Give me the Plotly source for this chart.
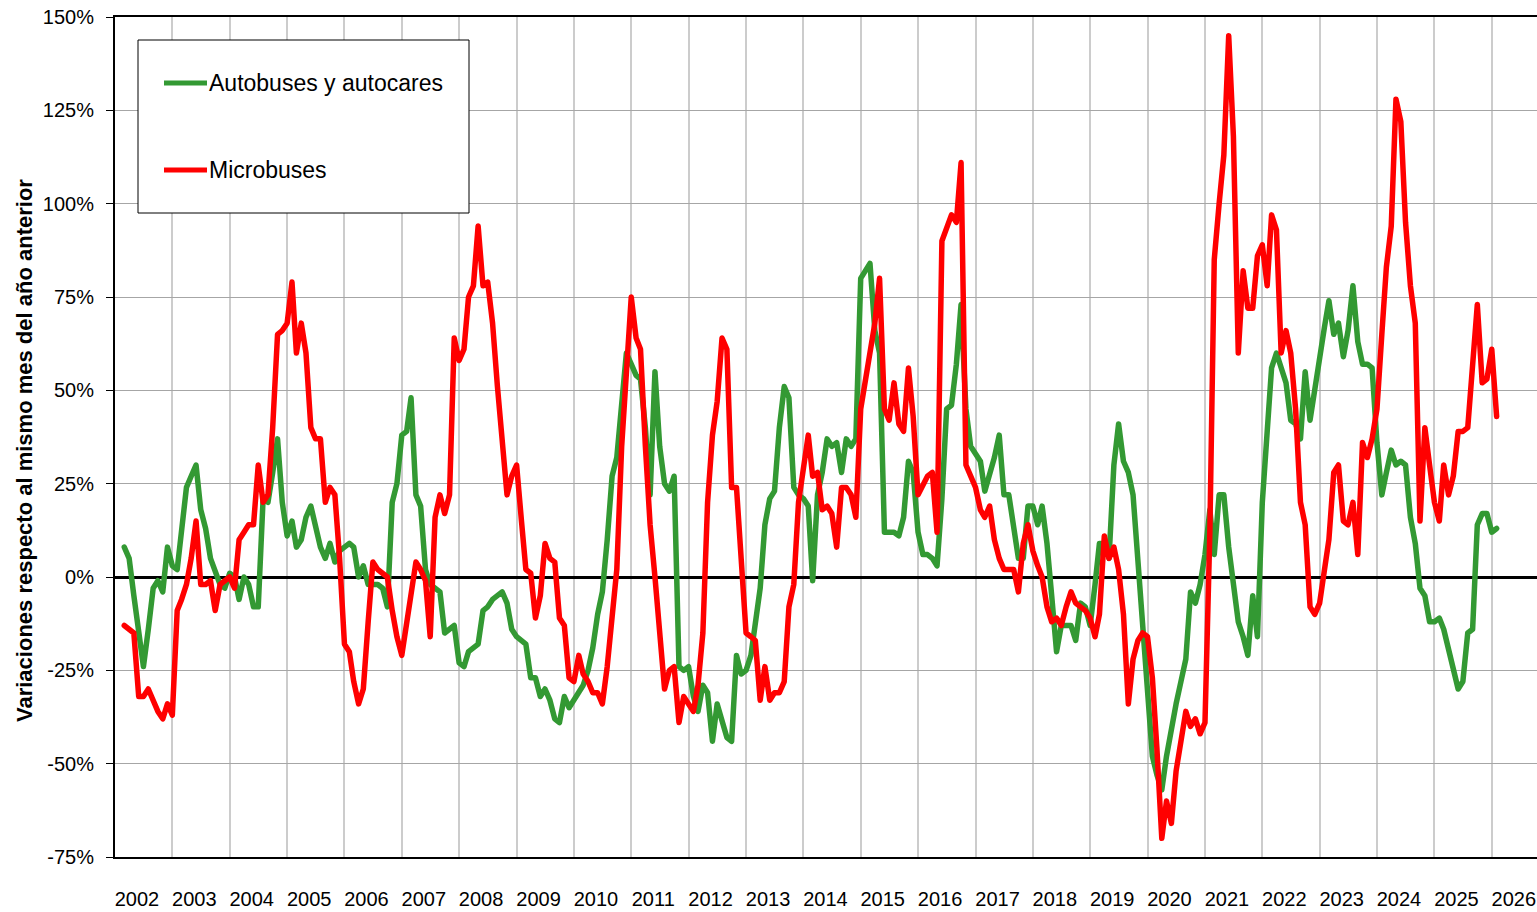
import pandas as pd
import plotly.graph_objects as go

# Variaciones interanuales (%), mensual, de marzo 2002 a febrero 2026
autobuses = [
    8, 5, -5, -15, -24, -14, -3, -1, -4, 8,                 # 2002 (mar-dic)
    3, 2, 12, 24, 27, 30, 18, 13, 5, 2, -2, -3,             # 2003
    1, 0, -6, 0, -2, -8, -8, 21, 20, 28, 37, 20,            # 2004
    11, 15, 8, 10, 16, 19, 14, 8, 5, 9, 4, 7,               # 2005
    8, 9, 8, 0, 3, -2, -2, -2, -3, -8, 20, 25,              # 2006
    38, 39, 48, 22, 19, 2, -2, -3, -4, -15, -14, -13,       # 2007
    -23, -24, -20, -19, -18, -9, -8, -6, -5, -4, -7, -14,   # 2008
    -16, -17, -18, -27, -27, -32, -30, -33, -38, -39, -32, -35,  # 2009
    -33, -31, -29, -25, -19, -10, -4, 10, 27, 32, 45, 60,   # 2010
    57, 54, 53, 40, 22, 55, 35, 25, 23, 27, -24, -25,       # 2011
    -24, -32, -36, -29, -31, -44, -34, -38, -43, -44, -21, -26,  # 2012
    -25, -21, -12, -3, 14, 21, 23, 40, 51, 48, 24, 22,      # 2013
    21, 19, -1, 22, 28, 37, 35, 36, 28, 37, 35, 37,         # 2014
    80, 82, 84, 66, 60, 12, 12, 12, 11, 16, 31, 28,         # 2015
    12, 6, 6, 5, 3, 21, 45, 46, 57, 73, 45, 35,             # 2016
    33, 31, 23, 27, 32, 38, 22, 22, 14, 5, 5, 19,           # 2017
    19, 14, 19, 9, -5, -20, -13, -13, -13, -17, -7, -8,     # 2018
    -13, -2, 9, 9, 5, 30, 41, 31, 28, 22, 5, -15,           # 2019
    -30, -48, -53, -57, -48, -40, -34, -28, -22, -4, -7, -2,  # 2020
    6, 18, 6, 22, 22, 8, -3, -12, -16, -21, -5, -16,        # 2021
    20, 42, 56, 60, 56, 52, 42, 41, 37, 55, 42, 51,         # 2022
    58, 67, 74, 65, 68, 59, 66, 78, 63, 57, 57, 56,         # 2023
    36, 22, 28, 34, 30, 31, 30, 16, 9, -3, -5, -12,         # 2024
    -12, -11, -14, -19, -24, -30, -28, -15, -14, 14, 17, 17,  # 2025
    12, 13,                                                 # 2026 (ene-feb)
]

microbuses = [
    -13, -14, -15, -32, -32, -30, -33, -36, -38, -34,       # 2002 (mar-dic)
    -37, -9, -6, -2, 5, 15, -2, -2, -1, -9, -2, -1,         # 2003
    0, -3, 10, 12, 14, 14, 30, 20, 22, 40, 65, 66,          # 2004
    68, 79, 60, 68, 60, 40, 37, 37, 20, 24, 22, 5,          # 2005
    -18, -20, -28, -34, -30, -12, 4, 2, 1, 0, -9, -16,      # 2006
    -21, -12, -3, 4, 2, -1, -16, 16, 22, 17, 22, 64,        # 2007
    58, 61, 75, 78, 94, 78, 79, 68, 51, 35, 22, 27,         # 2008
    30, 15, 2, 1, -11, -5, 9, 5, 4, -11, -13, -27,          # 2009
    -28, -21, -26, -28, -31, -31, -34, -24, -12, 2, 35, 57,  # 2010
    75, 64, 61, 35, 14, 0, -16, -30, -25, -24, -39, -32,    # 2011
    -34, -36, -29, -15, 20, 38, 47, 64, 61, 24, 24, 5,      # 2012
    -15, -16, -17, -33, -24, -33, -31, -31, -28, -8, -2, 20,  # 2013
    28, 38, 27, 28, 18, 19, 17, 8, 24, 24, 22, 16,          # 2014
    45, 53, 60, 68, 80, 45, 42, 52, 41, 39, 56, 43,         # 2015
    22, 25, 27, 28, 12, 90, 93, 97, 95, 111, 30, 27,        # 2016
    24, 18, 16, 19, 10, 5, 2, 2, 2, -4, 9, 14,              # 2017
    7, 3, 0, -8, -12, -11, -13, -8, -4, -7, -8, -9,         # 2018
    -11, -16, -10, 11, 5, 8, 2, -10, -34, -22, -17, -15,    # 2019
    -16, -27, -46, -70, -60, -66, -52, -43, -36, -40, -38, -42,  # 2020
    -39, 12, 85, 100, 113, 145, 118, 60, 82, 72, 72, 86,    # 2021
    89, 78, 97, 93, 60, 66, 60, 45, 20, 14, -8, -10,        # 2022
    -7, 2, 10, 28, 30, 15, 14, 20, 6, 36, 32, 37,           # 2023
    45, 65, 83, 94, 128, 122, 95, 78, 68, 15, 40, 30,       # 2024
    20, 15, 30, 22, 27, 39, 39, 40, 55, 73, 52, 53,         # 2025
    61, 43,                                                 # 2026 (ene-feb)
]

series_names = ["Autobuses y autocares", "Microbuses"]
series_colors = ["#339933", "#ff0000"]

y_ticks = [-75, -50, -25, 0, 25, 50, 75, 100, 125, 150]
y_labels = ["-75%", "-50%", "-25%", "0%", "25%", "50%", "75%", "100%", "125%", "150%"]

months = pd.date_range("2002-03-01", periods=len(autobuses), freq="MS")

FONT = "Liberation Sans, Arial, sans-serif"

# plot area in pixels (for the hand-made legend)
L, R, T, B = 115, 1537, 17, 857
def px(x):
    return (x - L) / (R - L)
def py(y):
    return (B - y) / (B - T)

fig = go.Figure()
for vals, name, col in zip([autobuses, microbuses], series_names, series_colors):
    fig.add_trace(go.Scatter(
        x=months, y=vals, mode="lines", name=name,
        line=dict(color=col, width=5.5),
    ))

# legend box drawn by hand
shapes = [dict(type="rect", xref="paper", yref="paper",
               x0=px(138), x1=px(469), y0=py(213), y1=py(40),
               line=dict(color="black", width=1), fillcolor="white", layer="above")]
annotations = []
for name, col, ly in zip(series_names, series_colors, [83, 170]):
    shapes.append(dict(type="line", xref="paper", yref="paper",
                       x0=px(164), x1=px(207), y0=py(ly), y1=py(ly),
                       line=dict(color=col, width=5), layer="above"))
    annotations.append(dict(xref="paper", yref="paper", x=px(207), y=py(ly),
                            text=name, showarrow=False, xanchor="left", yanchor="middle",
                            font=dict(family=FONT, size=23, color="black")))

annotations.append(dict(xref="paper", yref="paper", x=px(25), y=py(451),
                        text="<b>Variaciones respecto al mismo mes del año anterior</b>",
                        textangle=-90, showarrow=False, xanchor="center", yanchor="middle",
                        font=dict(family=FONT, size=22, color="black")))

fig.update_layout(
    width=1537, height=912,
    margin=dict(l=L, r=1537 - R, t=T, b=912 - B),
    plot_bgcolor="white", paper_bgcolor="white",
    showlegend=False,
    font=dict(family=FONT, size=20, color="black"),
    shapes=shapes,
    annotations=annotations,
)

fig.update_xaxes(
    type="date",
    range=["2002-01-01", "2026-10-16"],
    tick0="2002-01-01", dtick="M12", tickformat="%Y",
    ticks="", ticklabelshift=22, ticklabelstandoff=23,
    showgrid=True, gridcolor="#cccccc", gridwidth=1.5,
    showline=True, linecolor="black", linewidth=2, mirror=True,
    tickfont=dict(family=FONT, size=20, color="black"),
    automargin=False,
)

fig.update_yaxes(
    range=[-75, 150],
    tickvals=y_ticks, ticktext=y_labels,
    ticks="outside", ticklen=7, tickcolor="black", tickwidth=1,
    ticklabelstandoff=8,
    showgrid=True, gridcolor="#a6a6a6", gridwidth=1,
    zeroline=True, zerolinecolor="black", zerolinewidth=3,
    showline=True, linecolor="black", linewidth=2,
    tickfont=dict(family=FONT, size=20, color="black"),
    automargin=False,
)

# page without body margin, and rounded joins like the original lines
fig.write_html(
    "out.html",
    config={"displayModeBar": False},
    post_script=(
        "document.body.style.margin='0';"
        "document.querySelectorAll('.scatterlayer path.js-line').forEach(function(p){"
        "p.style.strokeLinejoin='round';p.style.strokeLinecap='round';});"
    ),
)
